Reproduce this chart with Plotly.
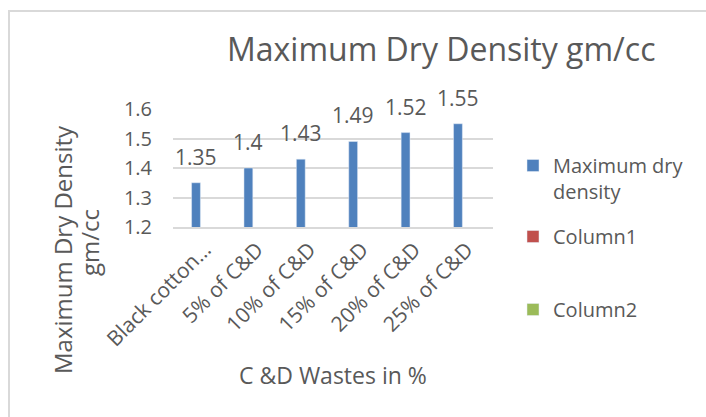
import plotly.graph_objects as go

# Maximum dry density of black cotton soil blended with C&D waste
categories = ["Black cotton…", "5% of C&D", "10% of C&D", "15% of C&D", "20% of C&D", "25% of C&D"]
max_dry_density = [1.35, 1.40, 1.43, 1.49, 1.52, 1.55]
column1 = [None] * len(categories)
column2 = [None] * len(categories)
y_ticks = [1.2, 1.3, 1.4, 1.5, 1.6]

TEXT = "#595959"
GRID = "#d9d9d9"
FONT = "Open Sans"
BARGAP = 0.494
N_SERIES = 3

W, H = 706, 417
L, R, T, B = 173, 213, 109, 190
PW, PH = W - L - R, H - T - B


def px_x(p):
    return (p - L) / PW


def px_y(p):
    return (H - B - p) / PH


fig = go.Figure()
fig.add_trace(go.Bar(x=categories, y=max_dry_density, name="Maximum dry<br>density",
                     marker_color="#4f81bd", legend="legend"))
fig.add_trace(go.Bar(x=categories, y=column1, name="Column1",
                     marker_color="#c0504d", legend="legend2"))
fig.add_trace(go.Bar(x=categories, y=column2, name="Column2",
                     marker_color="#9bbb59", legend="legend3"))

# value labels above the first bar of each group
bar_w = (1 - BARGAP) / N_SERIES
annotations = []
for i, v in enumerate(max_dry_density):
    annotations.append(dict(x=i - bar_w, y=v, xref="x", yref="y", text=f"{v:g}",
                            showarrow=False, yanchor="bottom", yshift=10,
                            font=dict(family=FONT, size=21, color=TEXT)))

annotations += [
    dict(x=px_x(441), y=px_y(48), xref="paper", yref="paper",
         text="Maximum Dry Density gm/cc", showarrow=False,
         xanchor="center", yanchor="middle",
         font=dict(family=FONT, size=32, color=TEXT)),
    # y-axis title, two tightly spaced lines
    dict(x=px_x(62), y=px_y(250), xref="paper", yref="paper",
         text="Maximum Dry Density", showarrow=False, textangle=-90,
         xanchor="center", yanchor="middle",
         font=dict(family=FONT, size=24, color=TEXT)),
    dict(x=px_x(89), y=px_y(243), xref="paper", yref="paper",
         text="gm/cc", showarrow=False, textangle=-90,
         xanchor="center", yanchor="middle",
         font=dict(family=FONT, size=24, color=TEXT)),
    dict(x=px_x(333), y=px_y(375), xref="paper", yref="paper",
         text="C &D Wastes in %", showarrow=False,
         xanchor="center", yanchor="middle",
         font=dict(family=FONT, size=23, color=TEXT)),
]

legend_common = dict(font=dict(family=FONT, size=20, color=TEXT), bgcolor="rgba(0,0,0,0)",
                     xanchor="left", yanchor="top", valign="top", itemclick=False)

fig.update_layout(
    width=W, height=H,
    margin=dict(l=L, r=R, t=T, b=B, pad=0),
    paper_bgcolor="white", plot_bgcolor="white",
    showlegend=True,
    barmode="group", bargap=BARGAP, bargroupgap=0,
    font=dict(family=FONT, color=TEXT),
    xaxis=dict(tickangle=-45, tickfont=dict(family=FONT, size=21, color=TEXT),
               showgrid=False, showline=True, linecolor=GRID, linewidth=2,
               ticks="", fixedrange=True),
    yaxis=dict(range=[1.2, 1.6], tickvals=y_ticks, ticktext=[f"{t:.1f}" for t in y_ticks],
               tickfont=dict(family=FONT, size=20, color=TEXT),
               showgrid=True, gridcolor=GRID, gridwidth=2, zeroline=False,
               showline=False, ticks="", ticklabelstandoff=20, fixedrange=True),
    legend=dict(x=px_x(513), y=px_y(146), **legend_common),
    legend2=dict(x=px_x(513), y=px_y(217), **legend_common),
    legend3=dict(x=px_x(513), y=px_y(290), **legend_common),
    annotations=annotations,
    shapes=[dict(type="rect", xref="paper", yref="paper",
                 x0=px_x(9), x1=px_x(760), y0=px_y(11), y1=px_y(460),
                 line=dict(color=GRID, width=2), fillcolor="rgba(0,0,0,0)", layer="below")],
)

fig.write_html("out.html")
